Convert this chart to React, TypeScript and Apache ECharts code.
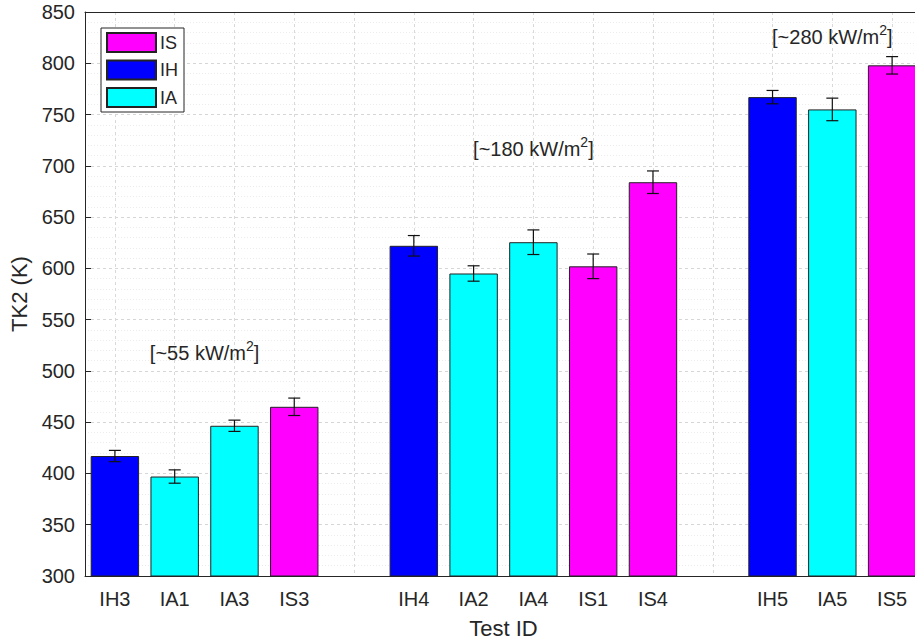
import React, { useEffect, useRef } from "react";
import * as echarts from "echarts";

const categories = ["IH3", "IA1", "IA3", "IS3", "", "IH4", "IA2", "IA4", "IS1", "IS4", "", "IH5", "IA5", "IS5"];
const isValues = ["-", "-", "-", 465, "-", "-", "-", "-", 602, 684, "-", "-", "-", 798];
const ihValues = [417, "-", "-", "-", "-", 622, "-", "-", "-", "-", "-", 767, "-", "-"];
const iaValues = ["-", 397, 446.5, "-", "-", "-", 595, 625.5, "-", "-", "-", "-", 755, "-"];
const errors = [5.5, 6.5, 5.5, 8.5, null, 10, 7.5, 12, 12, 11, null, 6.5, 11, 8.5];

const yMin = 300;
const yMax = 850;
const yInterval = 50;

const annotationTexts = ["[~55 kW/m", "[~180 kW/m", "[~280 kW/m"];
// [from category index, to category index, y value] - label centred between the two
const annotationAnchors = [
  [1, 2, 519],
  [7, 7, 718],
  [12, 12, 828],
];

const FONT = "'Liberation Sans', Arial, Helvetica, sans-serif";
const TXT = "#262626";
const COLORS = { IS: "#FF00FF", IH: "#0000FF", IA: "#00FFFF" };
const BORDER = "#222222";

export default function App() {
  const ref = useRef<HTMLDivElement>(null);

  useEffect(() => {
    document.body.style.margin = "0";
    if (!ref.current) return;
    const chart = echarts.init(ref.current, null, { renderer: "svg" });

    const values = categories.map((_, i) => {
      const v = [isValues[i], ihValues[i], iaValues[i]].find((x) => x !== "-");
      return typeof v === "number" ? v : null;
    });
    const errData = categories
      .map((_, i) => {
        const v = values[i];
        const e = errors[i];
        if (v == null || e == null) return null;
        return [i, v - e, v + e];
      })
      .filter((d) => d !== null);

    const barCommon = {
      type: "bar",
      barGap: "-100%",
      barCategoryGap: "19%",
      itemStyle: { borderColor: BORDER, borderWidth: 1 },
      emphasis: { disabled: true },
    };

    chart.setOption({
      animation: false,
      textStyle: { fontFamily: FONT, color: TXT },
      grid: { left: 85, right: 0, top: 12, bottom: 67, containLabel: false },
      legend: {
        data: ["IS", "IH", "IA"],
        orient: "vertical",
        left: 101,
        top: 28,
        padding: [4, 6, 4, 5],
        itemWidth: 49,
        itemHeight: 19,
        itemGap: 6.5,
        icon: "rect",
        backgroundColor: "#ffffff",
        borderColor: "#262626",
        borderWidth: 1,
        borderRadius: 0,
        textStyle: { fontSize: 18, color: TXT, fontFamily: FONT, padding: [0, 0, 0, -1] },
      },
      xAxis: [
        {
          type: "category",
          data: categories,
          position: "bottom",
          axisLine: { onZero: false, lineStyle: { color: TXT, width: 1 } },
          axisTick: { alignWithLabel: true, inside: true, length: 5, lineStyle: { color: TXT } },
          axisLabel: { interval: 0, fontSize: 20, color: TXT, margin: 13, fontFamily: FONT },
          splitLine: {
            show: true,
            alignWithLabel: true,
            lineStyle: { color: "#d9d9d9", type: [3, 3], width: 1 },
          },
          name: "Test ID",
          nameLocation: "middle",
          nameGap: 41,
          nameTextStyle: { fontSize: 22, color: TXT, fontFamily: FONT },
        },
        {
          type: "category",
          data: categories,
          position: "top",
          axisLine: { onZero: false, lineStyle: { color: TXT, width: 1 } },
          axisTick: { alignWithLabel: true, inside: true, length: 5, lineStyle: { color: TXT } },
          axisLabel: { show: false },
          splitLine: { show: false },
        },
      ],
      yAxis: [
        {
          type: "value",
          min: yMin,
          max: yMax,
          interval: yInterval,
          axisLine: { show: true, onZero: false, lineStyle: { color: TXT, width: 1 } },
          axisTick: { show: true, inside: true, length: 6, lineStyle: { color: TXT } },
          axisLabel: { fontSize: 20, color: TXT, margin: 10, fontFamily: FONT },
          splitLine: { show: true, lineStyle: { color: "#d6d6d6", type: [3, 3], width: 1 } },
          minorTick: { show: false, splitNumber: 5 },
          minorSplitLine: { show: true, lineStyle: { color: "#ececec", type: [1, 2], width: 1 } },
          name: "TK2 (K)",
          nameLocation: "middle",
          nameGap: 52,
          nameTextStyle: { fontSize: 22, color: TXT, fontFamily: FONT },
        },
      ],
      series: [
        { ...barCommon, name: "IS", data: isValues, itemStyle: { ...barCommon.itemStyle, color: COLORS.IS } },
        { ...barCommon, name: "IH", data: ihValues, itemStyle: { ...barCommon.itemStyle, color: COLORS.IH } },
        { ...barCommon, name: "IA", data: iaValues, itemStyle: { ...barCommon.itemStyle, color: COLORS.IA } },
        {
          type: "custom",
          name: "err",
          z: 10,
          silent: true,
          encode: { x: 0, y: [1, 2] },
          data: errData,
          renderItem: (params: any, api: any) => {
            const x = api.value(0);
            const lo = api.coord([x, api.value(1)]);
            const hi = api.coord([x, api.value(2)]);
            const hw = 6;
            const style = { stroke: "#111111", lineWidth: 1.2 };
            return {
              type: "group",
              children: [
                { type: "line", shape: { x1: lo[0], y1: lo[1], x2: hi[0], y2: hi[1] }, style },
                { type: "line", shape: { x1: lo[0] - hw, y1: lo[1], x2: lo[0] + hw, y2: lo[1] }, style },
                { type: "line", shape: { x1: hi[0] - hw, y1: hi[1], x2: hi[0] + hw, y2: hi[1] }, style },
              ],
            };
          },
        },
      ],
    });

    const graphics = annotationTexts.map((t, k) => {
      const [a, b, v] = annotationAnchors[k];
      const pa = chart.convertToPixel({ xAxisIndex: 0, yAxisIndex: 0 }, [a, v]) as number[];
      const pb = chart.convertToPixel({ xAxisIndex: 0, yAxisIndex: 0 }, [b, v]) as number[];
      return {
        type: "text",
        x: (pa[0] + pb[0]) / 2,
        y: pa[1],
        z: 20,
        style: {
          text: `{n|${t}}{s|2}{n|]}`,
          rich: {
            n: { fontSize: 20, fontFamily: FONT, fill: TXT, color: TXT, lineHeight: 24, verticalAlign: "bottom" },
            s: { fontSize: 14, fontFamily: FONT, fill: TXT, color: TXT, lineHeight: 14, verticalAlign: "top" },
          },
          align: "center",
          verticalAlign: "middle",
        },
      };
    });
    chart.setOption({ graphic: graphics });

    return () => chart.dispose();
  }, []);

  return (
    <div style={{ width: 915, height: 644, overflow: "hidden", position: "relative" }}>
      <div ref={ref} style={{ width: 922, height: 644 }} />
    </div>
  );
}
